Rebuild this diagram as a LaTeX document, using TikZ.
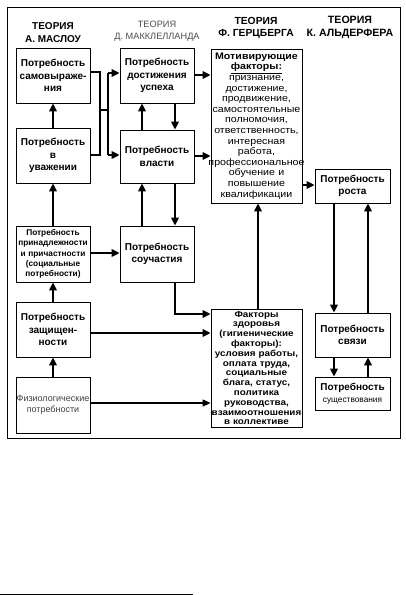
\documentclass[tikz,border=0pt]{standalone}
\usepackage{fontspec}
\setmainfont{Liberation Sans}
\newfontfamily\widesans[FakeStretch=1.12]{Liberation Sans}
\usetikzlibrary{arrows.meta}
\begin{document}
\begin{tikzpicture}[x=1pt,y=-1pt,
  box/.style={draw, line width=0.8pt, inner sep=0pt, align=center, fill=white,
    font=\bfseries\fontsize{10}{12.5}\selectfont},
  smallbox/.style={box, font=\bfseries\fontsize{8.3}{10.4}\selectfont},
  thinbox/.style={box, font=\fontsize{9}{11}\selectfont, text=black!75},
  herz/.style={box, font=\widesans\fontsize{9.5}{10.6}\selectfont},
  hyg/.style={box, font=\widesans\bfseries\fontsize{8.8}{9.8}\selectfont},
  head/.style={align=center, inner sep=0pt, font=\bfseries\fontsize{10}{13}\selectfont},
  lighthead/.style={align=center, inner sep=0pt, font=\fontsize{9.2}{11.5}\selectfont, text=black!70},
  conn/.style={line width=1.8pt},
  thinconn/.style={line width=1.1pt, -{Triangle[length=8pt,width=7pt]}},
  arr/.style={conn, -{Triangle[length=8pt,width=7.5pt]}},
  frame/.style={line width=0.8pt}]
\useasboundingbox (0,0) rectangle (406,595);
\draw[frame] (7,7) rectangle (400,438);

% headings
\node[head] (hm) at (53,33) {ТЕОРИЯ\\А. МАСЛОУ};
\node[lighthead] (hd) at (157,31) {ТЕОРИЯ\\Д. МАККЛЕЛЛАНДА};
\node[head, font=\bfseries\fontsize{10.3}{11.5}\selectfont] (hg) at (256,28) {ТЕОРИЯ\\Ф. ГЕРЦБЕРГА};
\node[head, font=\bfseries\fontsize{10.6}{12.8}\selectfont] (ha) at (350,27) {ТЕОРИЯ\\К. АЛЬДЕРФЕРА};

% Maslow
\node[box, minimum width=74pt, minimum height=55pt, text width=72pt] (m1) at (53,75.5) {Потребность\\самовыраже-\\ния};
\node[box, minimum width=74pt, minimum height=55pt, text width=72pt] (m2) at (53,155.5) {Потребность\\в\\уважении};
\node[smallbox, minimum width=74pt, minimum height=56pt, text width=74pt] (m3) at (53,254) {Потребность\\принадлежности\\и причастности\\(социальные\\потребности)};
\node[box, minimum width=74pt, minimum height=55pt, text width=72pt] (m4) at (53,329.5) {Потребность\\защищен-\\ности};
\node[thinbox, minimum width=74pt, minimum height=56pt, text width=74pt] (m5) at (53,405) {Физиологические\\потребности};

% McClelland
\node[box, minimum width=74pt, minimum height=55pt, text width=72pt] (d1) at (157,75.5) {Потребность\\достижения\\успеха};
\node[box, minimum width=74pt, minimum height=53pt, text width=72pt] (d2) at (157,156.5) {Потребность\\власти};
\node[box, minimum width=74pt, minimum height=56pt, text width=72pt] (d3) at (157,254) {Потребность\\соучастия};

% Herzberg
\node[herz, minimum width=91pt, minimum height=154pt, text width=91pt] (h1) at (256.5,126) {\textbf{Мотивирующие}\\\underline{\textbf{факторы:}}\\признание,\\достижение,\\продвижение,\\\makebox[0pt]{самостоятельные}\\полномочия,\\\makebox[0pt]{ответственность,}\\интересная\\работа,\\\makebox[0pt]{профессиональное}\\обучение и\\повышение\\квалификации};
\node[hyg, minimum width=91pt, minimum height=118pt, text width=91pt] (h2) at (256.5,368) {Факторы\\здоровья\\\makebox[0pt]{(гигиенические}\\факторы):\\условия работы,\\оплата труда,\\социальные\\блага, статус,\\политика\\руководства,\\\makebox[0pt]{взаимоотношения}\\в коллективе};

% Alderfer
\node[box, minimum width=75pt, minimum height=34pt, text width=75pt] (a1) at (352.5,186) {Потребность\\роста};
\node[box, minimum width=75pt, minimum height=44pt, text width=75pt] (a2) at (352.5,335) {Потребность\\связи};
\node[box, minimum width=75pt, minimum height=33pt, text width=75pt] (a3) at (352.5,393.5) {Потребность\\{\mdseries\fontsize{8.3}{10}\selectfont существования}};

% Maslow vertical arrows
\draw[arr] (m2.north) -- (m1.south);
\draw[arr] (m3.north) -- (m2.south);
\draw[arr] (m4.north) -- (m3.south);
\draw[arr] (m5.north) -- (m4.south);

% bus from Maslow to McClelland
\coordinate (b1) at (100,72);
\coordinate (b2) at (100,155);
\coordinate (bm) at (100,110);
\coordinate (bn) at (108,110);
\coordinate (c1) at (108,73);
\coordinate (c2) at (108,155);
\draw[conn] (m1.east |- b1) -- (b1) -- (b2) -- (m2.east |- b2);
\draw[conn] (bm) -- (bn);
\draw[conn] (c1) -- (c2);
\draw[arr] (c1) -- (d1.west |- c1);
\draw[arr] (c2) -- (d2.west |- c2);

% McClelland internal
\coordinate (u1) at (142,0);
\coordinate (v1) at (175,0);
\draw[arr] (d2.north -| u1) -- (d1.south -| u1);
\draw[arr] (d1.south -| v1) -- (d2.north -| v1);
\draw[arr] (d3.north -| u1) -- (d2.south -| u1);
\draw[arr] (d2.south -| v1) -- (d3.north -| v1);

% to Herzberg
\coordinate (y1) at (0,75);
\coordinate (y2) at (0,156);
\coordinate (y3) at (0,253);
\coordinate (y5) at (0,333);
\coordinate (y6) at (0,403);
\draw[arr] (d1.east |- y1) -- (h1.west |- y1);
\draw[arr] (d2.east |- y2) -- (h1.west |- y2);
\draw[arr] (m3.east |- y3) -- (d3.west |- y3);
\coordinate (k1) at (175,314);
\draw[arr] (d3.south -| k1) -- (k1) -- (h2.west |- k1);
\draw[arr] (m4.east |- y5) -- (h2.west |- y5);
\draw[thinconn] (m5.east |- y6) -- (h2.west |- y6);

\coordinate (g1) at (258,0);
\draw[arr] (h2.north -| g1) -- (h1.south -| g1);
\coordinate (y7) at (0,185);
\draw[arr] (h1.east |- y7) -- (a1.west |- y7);

% Alderfer internal
\coordinate (p1) at (334,0);
\coordinate (q1) at (368,0);
\draw[arr] (a1.south -| p1) -- (a2.north -| p1);
\draw[arr] (a2.north -| q1) -- (a1.south -| q1);
\draw[arr] (a2.south -| p1) -- (a3.north -| p1);
\draw[arr] (a3.north -| q1) -- (a2.south -| q1);

% footnote rule
\coordinate (f1) at (0,594);
\coordinate (f2) at (193,594);
\draw[line width=0.8pt] (f1) -- (f2);
\end{tikzpicture}
\end{document}
